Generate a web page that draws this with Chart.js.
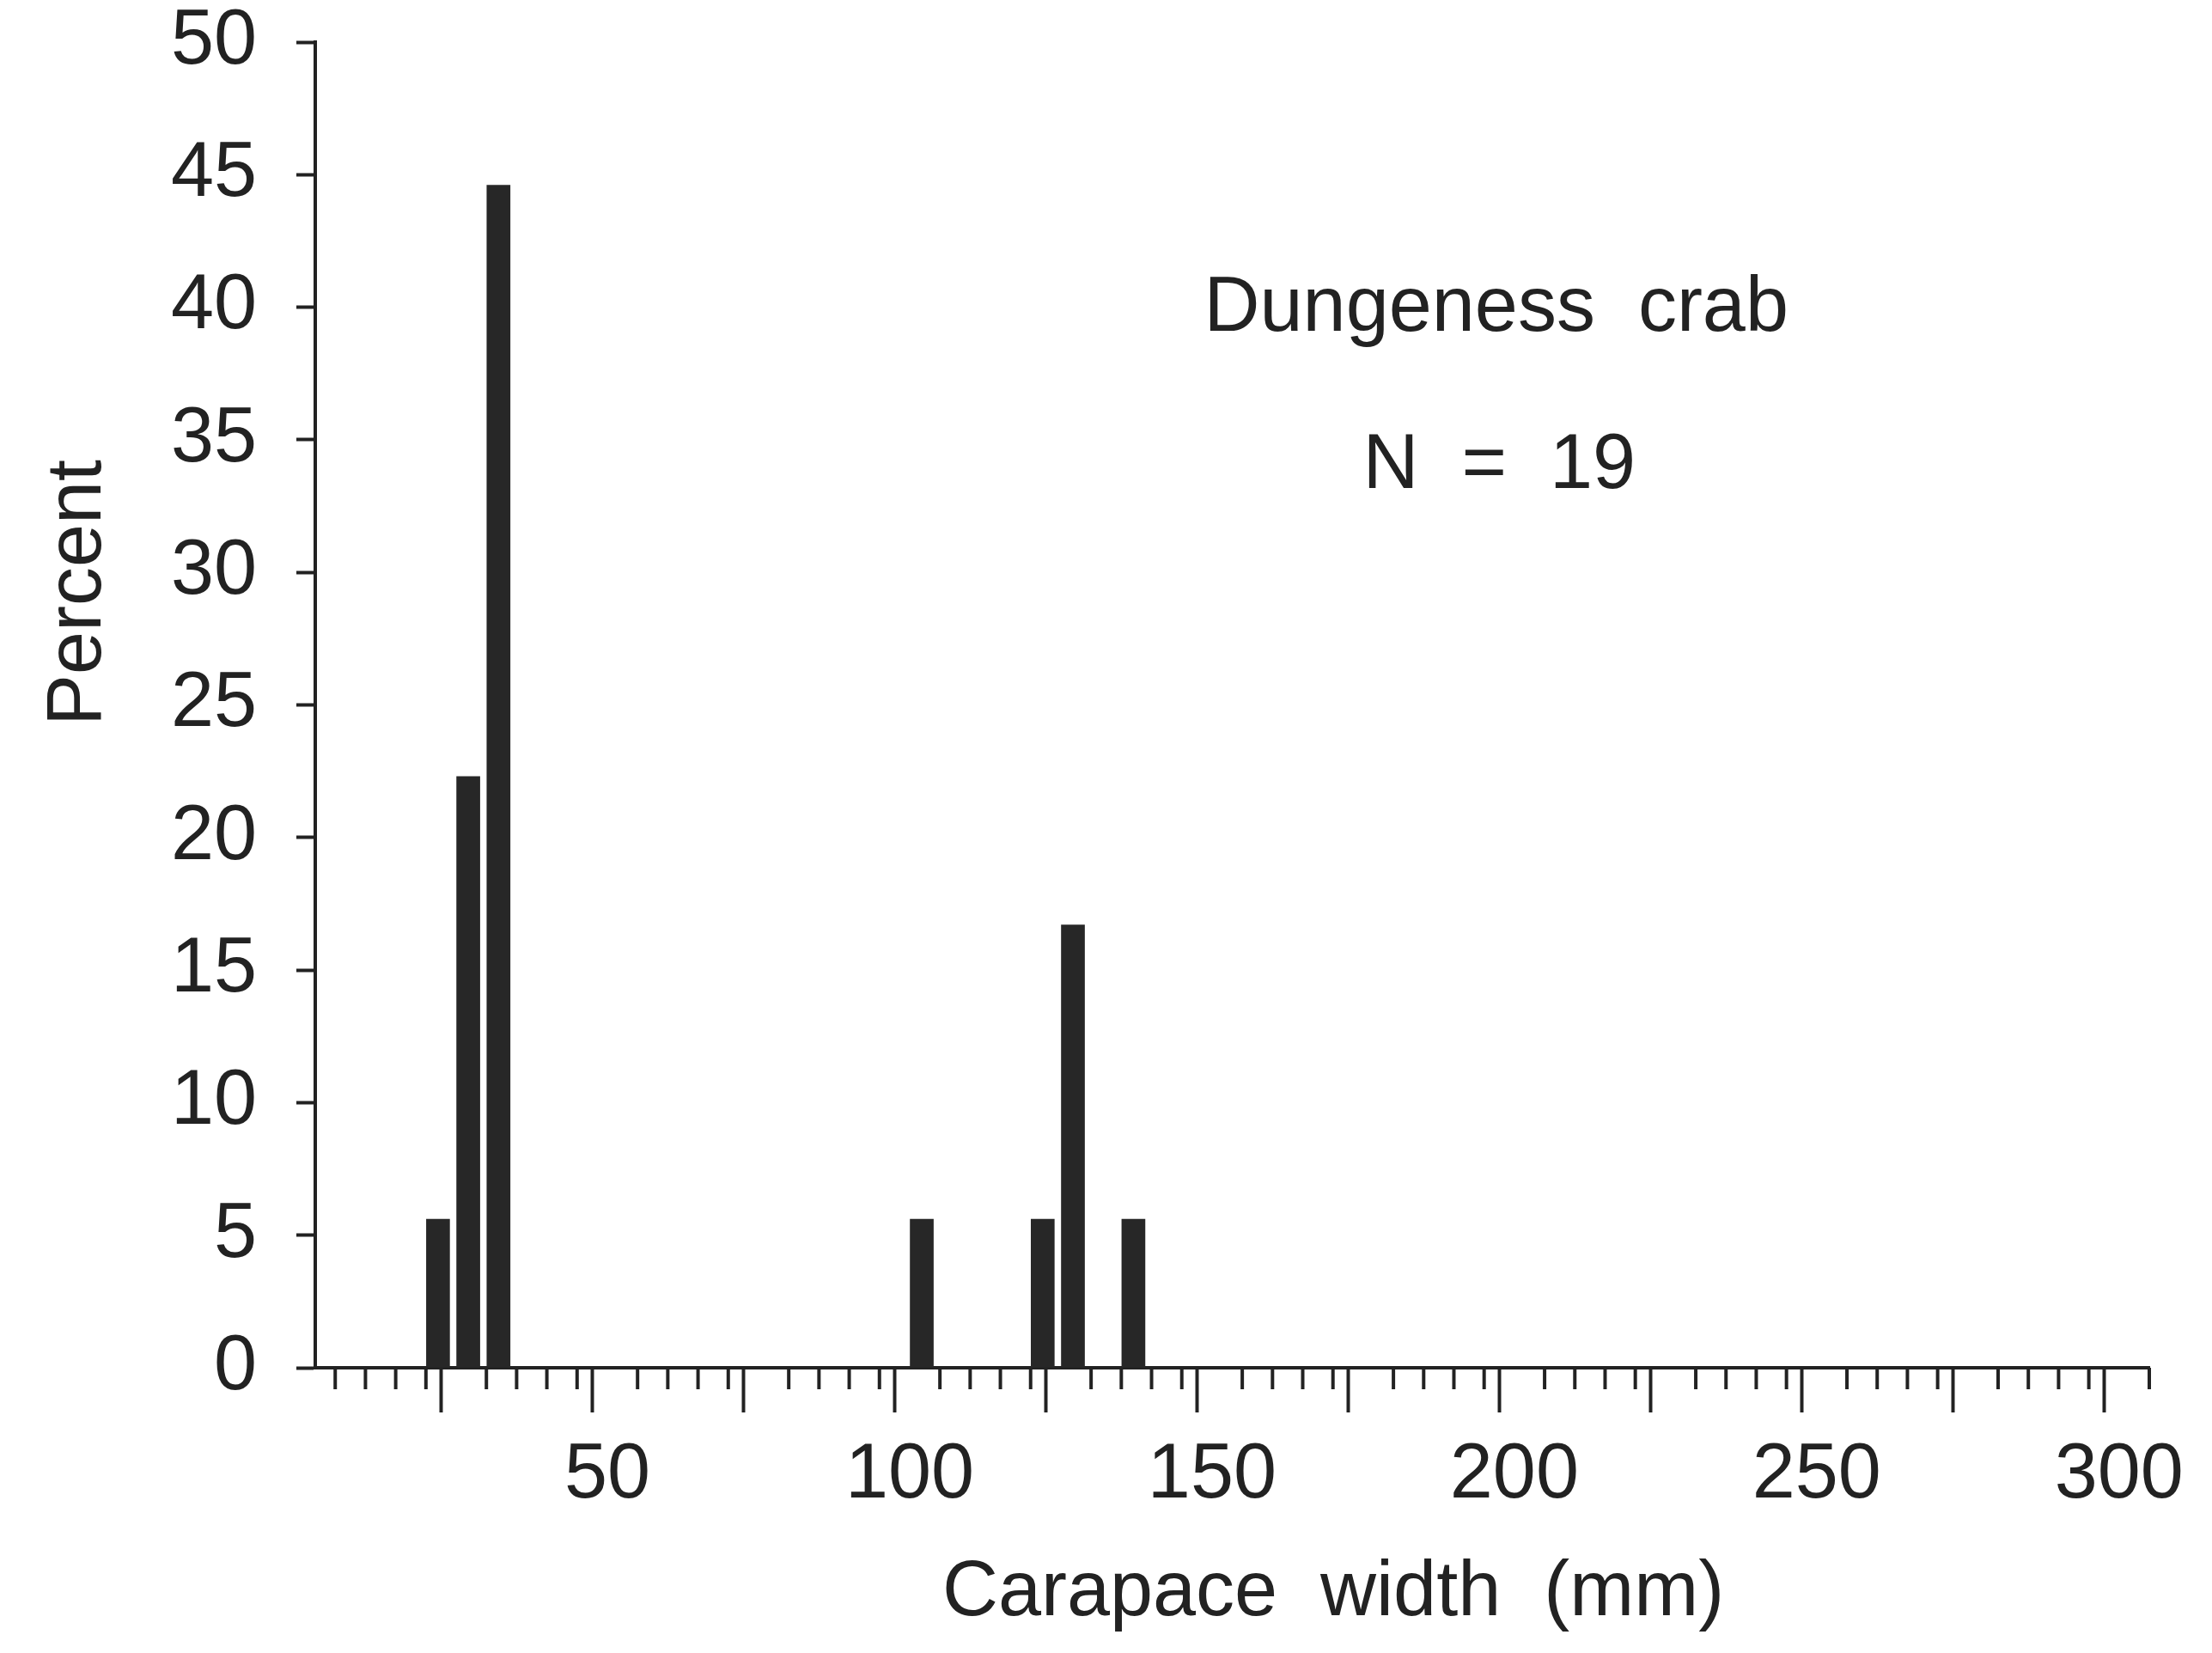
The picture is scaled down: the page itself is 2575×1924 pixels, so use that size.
<!DOCTYPE html>
<html>
<head>
<meta charset="utf-8">
<script src="https://cdn.jsdelivr.net/npm/chart.js@4/dist/chart.umd.min.js"></script>
<style>
  html, body { margin: 0; padding: 0; background: #ffffff; }
  #wrap { width: 2575px; height: 1924px; }
</style>
</head>
<body>
<div id="wrap"><canvas id="c" width="2575" height="1924"></canvas></div>
<script>
// ---- data ----
const binMidpoints = [22, 27, 32, 102, 122, 127, 137];      // carapace width (mm), bin centres
const percentValues = [5.6, 22.3, 44.6, 5.6, 5.6, 16.7, 5.6]; // percent
const xLabelValues = [50, 100, 150, 200, 250, 300];
const yTickValues = [0, 5, 10, 15, 20, 25, 30, 35, 40, 45, 50];
const xTitle = 'Carapace  width  (mm)';
const yTitle = 'Percent';
const speciesLabel = 'Dungeness  crab';
const sampleLabel = 'N  =  19';

const INK = '#222222';
const FONT = '"Liberation Sans", Arial, Helvetica, sans-serif';
const FONT_SIZE = 90;

const points = binMidpoints.map((x, i) => ({ x: x, y: percentValues[i] }));

const textPlugin = {
  id: 'textPlugin',
  afterDraw(chart) {
    const ctx = chart.ctx;
    const xs = chart.scales.x, ys = chart.scales.y;
    const area = chart.chartArea;
    ctx.save();
    // minor x ticks (every 5 mm, except the 25 mm majors drawn by the axis)
    ctx.strokeStyle = INK;
    ctx.lineWidth = 4;
    xs.ticks.forEach(t => {
      if (t.value % 25 !== 0) {
        const px = xs.getPixelForValue(t.value);
        ctx.beginPath();
        ctx.moveTo(px, area.bottom);
        ctx.lineTo(px, area.bottom + 25);
        ctx.stroke();
      }
    });
    ctx.fillStyle = INK;
    ctx.font = FONT_SIZE + 'px ' + FONT;
    ctx.textAlign = 'center';
    ctx.textBaseline = 'middle';
    // annotation inside plot
    ctx.fillText(speciesLabel, xs.getPixelForValue(197), ys.getPixelForValue(39.9));
    ctx.fillText(sampleLabel, xs.getPixelForValue(197.5), ys.getPixelForValue(34.0));
    // x title
    ctx.fillText(xTitle, area.left + 1185, area.bottom + 263);
    // y title
    ctx.save();
    ctx.translate(area.left - 275, area.top + 641);
    ctx.rotate(-Math.PI / 2);
    ctx.fillText(yTitle, 0, 0);
    ctx.restore();
    ctx.restore();
  }
};

new Chart(document.getElementById('c'), {
  type: 'bar',
  data: {
    datasets: [{
      data: points,
      backgroundColor: '#272727',
      borderWidth: 0,
      barThickness: 27
    }]
  },
  options: {
    responsive: false,
    animation: false,
    devicePixelRatio: 1,
    layout: { padding: { left: 0, top: 49, right: 73, bottom: 0 } },
    plugins: { legend: { display: false }, tooltip: { enabled: false }, title: { display: false } },
    scales: {
      x: {
        type: 'linear',
        min: 1.7,
        max: 305,
        offset: false,
        grid: {
          display: true,
          drawOnChartArea: false,
          drawTicks: true,
          tickLength: 52,
          tickWidth: 4,
          tickColor: (c) => (c.tick && c.tick.value % 25 === 0) ? INK : 'rgba(0,0,0,0)'
        },
        border: { display: true, color: INK, width: 4 },
        ticks: {
          stepSize: 5,
          includeBounds: false,
          autoSkip: false,
          maxRotation: 0,
          minRotation: 0,
          padding: 20,
          color: INK,
          font: { family: FONT, size: FONT_SIZE },
          callback: (v) => xLabelValues.includes(v) ? String(v) : ''
        },
        afterFit: (s) => { s.height = 1924 - 1592; s.paddingLeft = 0; s.paddingRight = 0; }
      },
      y: {
        type: 'linear',
        min: yTickValues[0],
        max: yTickValues[yTickValues.length - 1],
        grid: {
          display: true,
          drawOnChartArea: false,
          drawTicks: true,
          tickLength: 22,
          tickWidth: 4,
          tickColor: INK
        },
        border: { display: true, color: INK, width: 4 },
        ticks: {
          stepSize: 5,
          padding: 46,
          color: INK,
          font: { family: FONT, size: FONT_SIZE }
        },
        afterFit: (s) => { s.width = 367; s.paddingTop = 0; s.paddingBottom = 0; }
      }
    }
  },
  plugins: [textPlugin]
});
</script>
</body>
</html>
